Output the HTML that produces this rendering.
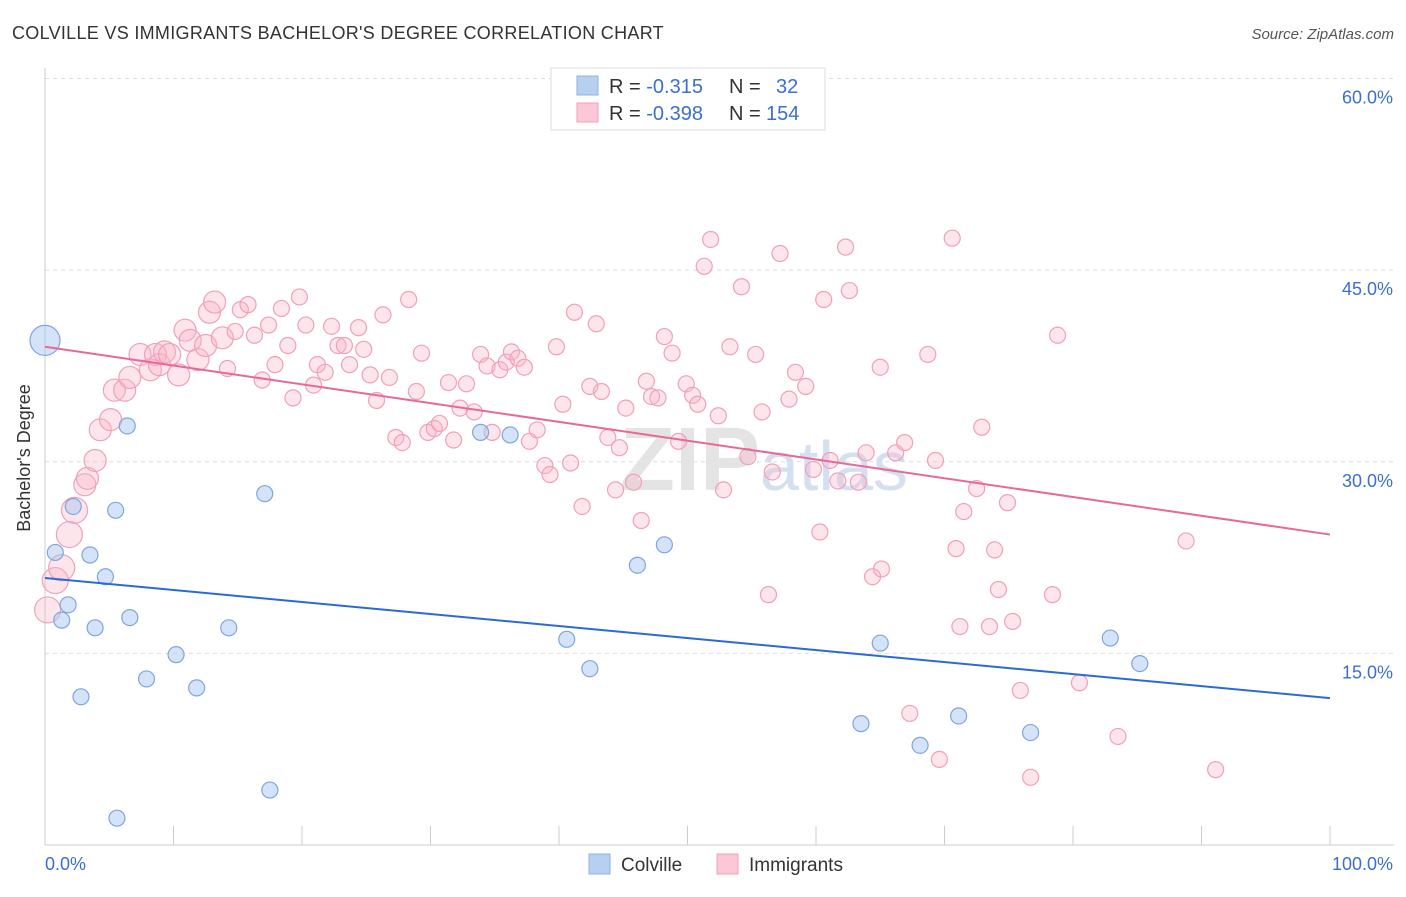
<!DOCTYPE html>
<html><head><meta charset="utf-8"><style>
body{margin:0;background:#fff;font-family:"Liberation Sans",sans-serif;}
svg text{font-family:"Liberation Sans",sans-serif;}
</style></head><body>
<svg id="chart" width="1406" height="892">
<text x="12" y="39" font-size="18" fill="#333" letter-spacing="0.3">COLVILLE VS IMMIGRANTS BACHELOR'S DEGREE CORRELATION CHART</text>
<text x="1394" y="39" font-size="15" fill="#555" font-style="italic" text-anchor="end">Source: ZipAtlas.com</text>
<text x="30" y="458" font-size="18" fill="#333" transform="rotate(-90 30 458)" text-anchor="middle">Bachelor's Degree</text>
<g id="grid"></g>
<text x="620" y="490" font-size="90" fill="#e4e4e4" font-weight="bold">ZIP<tspan fill="#d4e0f0" font-weight="normal" font-size="70">atlas</tspan></text>
<g id="marks"></g>
<g>
<rect x="551" y="68" width="274" height="62" fill="#fff" stroke="#ddd"/>
<rect x="577" y="76" width="21" height="19" fill="#b8d0f0" stroke="#8fb0e0"/>
<rect x="577" y="103" width="21" height="19" fill="#fcc8d8" stroke="#f0a0b8"/>
<text x="609" y="93" font-size="20" fill="#333">R = <tspan fill="#3a6fd0"> -0.315</tspan><tspan x="729">N = </tspan><tspan fill="#3a6fd0" x="776">32</tspan></text>
<text x="609" y="120" font-size="20" fill="#333">R = <tspan fill="#3a6fd0">-0.398</tspan><tspan x="729">N = </tspan><tspan fill="#3a6fd0" x="766">154</tspan></text>
</g>
<g>
<rect x="589" y="854" width="21" height="20" fill="#b8d0f0" stroke="#8fb0e0"/>
<text x="621" y="871" font-size="19" fill="#333">Colville</text>
<rect x="717" y="854" width="21" height="20" fill="#fcc8d8" stroke="#f0a0b8"/>
<text x="749" y="871" font-size="19" fill="#333">Immigrants</text>
</g>
</svg>
<script>
const yTicks=[15,30,45,60];
const yTickLabels=["15.0%","30.0%","45.0%","60.0%"];
const xTickLabels=["0.0%","100.0%"];
const blueX=[0,0.8,2.2,3.5,5.5,6.4,4.7,1.8,1.3,3.9,6.6,2.8,7.9,10.2,11.8,14.3,17.1,17.5,5.6,33.9,36.2,40.6,42.4,46.1,48.2,63.5,65,68.1,71.1,76.7,82.9,85.2];
const blueY=[39.5,22.9,26.5,22.7,26.2,32.8,21,18.8,17.6,17,17.8,11.6,13,14.9,12.3,17,27.5,4.3,2.1,32.3,32.1,16.1,13.8,21.9,23.5,9.5,15.8,7.8,10.1,8.8,16.2,14.2];
const pinkX=[0.2,0.8,1.3,1.9,2.3,3.1,3.3,3.9,4.3,5.1,5.4,6.2,6.6,7.4,8.2,8.6,8.9,9.3,9.7,10.4,10.9,11.3,11.9,12.5,12.8,13.2,13.8,14.2,14.8,15.2,15.8,16.3,16.9,17.4,17.9,18.4,18.9,19.3,19.8,20.3,20.9,21.2,21.8,22.3,22.8,23.3,23.7,24.4,24.8,25.3,25.8,26.3,26.8,27.3,27.8,28.3,28.9,29.3,29.8,30.3,30.7,31.4,31.8,32.3,32.8,33.4,33.9,34.4,34.8,35.4,35.9,36.3,36.8,37.3,37.7,38.3,38.9,39.3,39.8,40.3,40.9,41.2,41.8,42.4,42.9,43.3,43.8,44.4,44.7,45.2,45.8,46.4,46.8,47.2,47.7,48.2,48.8,49.3,49.9,50.4,50.8,51.3,51.8,52.4,52.8,53.3,54.2,54.7,55.3,55.8,56.6,57.2,57.9,58.4,59.2,59.8,60.3,60.6,61.1,61.7,62.3,62.6,63.3,63.9,64.4,65,65.1,66.2,66.9,67.3,68.7,69.3,69.6,70.6,70.9,71.2,71.5,72.5,72.9,73.5,73.9,74.2,74.9,75.3,75.9,76.7,78.4,78.8,80.5,83.5,88.8,91.1,56.3];
const pinkY=[18.4,20.7,21.7,24.3,26.2,28.2,28.7,30.1,32.5,33.3,35.6,35.6,36.6,38.4,37.2,38.4,37.6,38.6,38.4,36.8,40.3,39.5,38,39.1,41.7,42.5,39.7,37.3,40.2,41.9,42.3,39.9,36.4,40.7,37.6,42,39.1,35,42.9,40.7,36,37.6,37,40.6,39.1,39.1,37.6,40.5,38.8,36.8,34.8,41.5,36.6,31.9,31.5,42.7,35.5,38.5,32.3,32.6,33,36.2,31.7,34.2,36.1,33.9,38.4,37.5,32.3,37.2,37.8,38.6,38.1,37.4,31.6,32.5,29.7,29,39,34.5,29.9,41.7,26.5,35.9,40.8,35.5,31.9,27.8,31.1,34.2,28.4,25.4,36.3,35.1,35,39.8,38.5,31.6,36.1,35.2,34.5,45.3,47.4,33.6,27.8,39,43.7,30.4,38.4,33.9,29.2,46.3,34.9,37,35.9,29.4,24.5,42.7,30.1,28.5,46.8,43.4,28.4,30.7,21,37.4,21.6,30.7,31.5,10.3,38.4,30.1,6.7,47.5,23.2,17.1,26.1,27.9,32.7,17.1,23.1,20,26.8,17.5,12.1,5.3,19.6,39.9,12.7,8.5,23.8,5.9,19.6];
const colvilleTrend=[20.9,11.5];
const immigrantsTrend=[39,24.3];
const L=45,R=1330,T=78.5,B=845;
const xs=v=>L+v/100*(R-L);
const ys=v=>B-v/60*(B-T);
const NS="http://www.w3.org/2000/svg";
function mk(tag,attrs,parent){const e=document.createElementNS(NS,tag);for(const k in attrs)e.setAttribute(k,attrs[k]);parent.appendChild(e);return e;}
const grid=document.getElementById('grid');
yTicks.forEach((t,i)=>{
 const ln=mk('line',{x1:L,x2:1394,y1:ys(t),y2:ys(t),stroke:'#ddd','stroke-dasharray':'4,4'},grid);
 
 
 const tx=mk('text',{x:1393,y:ys(t)+25,'font-size':18,fill:'#3a6fd0','text-anchor':'end'},grid);
 tx.textContent=yTickLabels[i];
 
 
});
const ax=mk('line',{x1:L,x2:L,y1:68,y2:B,stroke:'#ccc'},grid);


const bx=mk('line',{x1:L,x2:1394,y1:B,y2:B,stroke:'#ccc'},grid);


for(let i=0;i<=10;i++){const tk=mk('line',{x1:xs(i*10),x2:xs(i*10),y1:B,y2:826,stroke:'#ccc'},grid);
 
 }
[0,100].forEach((v,i)=>{const t=mk('text',{x:i?1393:45,y:870,'font-size':18,fill:'#3a6fd0','text-anchor':i?'end':'start'},grid);t.textContent=xTickLabels[i];
 
 });
const marks=document.getElementById('marks');
pinkX.forEach((x,i)=>{
 if(pinkY[i]===undefined)return;
 const r=x<3?13:(x<14?11:8);
 const c=mk('circle',{cx:xs(x),cy:ys(pinkY[i]),r:r,fill:'rgba(248,180,200,0.35)',stroke:'#f0a0b8','stroke-width':1.2},marks);
 
 
});
blueX.forEach((x,i)=>{
 const r=i==0?15:8;
 const c=mk('circle',{cx:xs(x),cy:ys(blueY[i]),r:r,fill:'rgba(170,200,240,0.5)',stroke:'#7fa5de','stroke-width':1.2},marks);
 
 
});
const l1=mk('line',{x1:xs(0),x2:xs(100),y1:ys(colvilleTrend[0]),y2:ys(colvilleTrend[1]),stroke:'#2a6ad8','stroke-width':2},marks);


const l2=mk('line',{x1:xs(0),x2:xs(100),y1:ys(immigrantsTrend[0]),y2:ys(immigrantsTrend[1]),stroke:'#e8689a','stroke-width':2},marks);


</script>
</body></html>
